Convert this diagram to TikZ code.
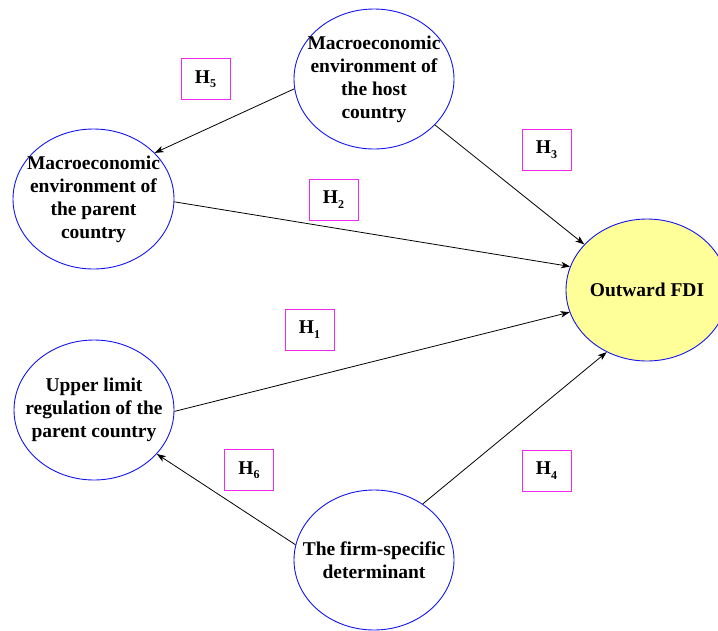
\documentclass[tikz,border=0pt]{standalone}
\usepackage{fontspec}
\setmainfont{Liberation Serif}
\usetikzlibrary{shapes.geometric,arrows.meta}
\definecolor{ellblue}{RGB}{20,20,240}
\definecolor{hypmag}{RGB}{240,40,240}
\definecolor{fdiyellow}{RGB}{255,255,153}
\tikzset{
  ell/.style={ellipse,draw=ellblue,line width=0.9pt,minimum width=160pt,
              minimum height=140pt,inner sep=0pt},
  elltext/.style={align=center,font=\fontsize{19.5}{23}\selectfont\bfseries,inner sep=0pt},
  hyp/.style={draw=hypmag,line width=0.9pt,minimum width=49pt,minimum height=41pt,
              inner sep=0pt,font=\fontsize{19.5}{23}\selectfont\bfseries},
  link/.style={line width=0.8pt,-{Stealth[length=9pt,width=6.5pt,inset=2.5pt]}}
}
\newcommand{\hyplabel}[1]{H\raisebox{-4.5pt}{\fontsize{12}{12}\selectfont\bfseries #1}}
\begin{document}
\begin{tikzpicture}[x=1pt,y=-1pt]
  \useasboundingbox (0,0) rectangle (718,630);
  % constructs
  \node[ell] (host) at (374,79) {};
  \node[elltext] (hostt) at (host) {Macroeconomic\\environment of\\the host\\country};
  \node[ell,minimum width=161pt] (parent) at (93.5,199) {};
  \node[elltext] (parentt) at (parent) {Macroeconomic\\environment of\\the parent\\country};
  \node[ell] (limit) at (94,410) {};
  \node[elltext] (limitt) at (limit) {Upper limit\\regulation of the\\parent country};
  \node[ell] (firm) at (374,560) {};
  \node[elltext] (firmt) at (firm) {The firm-specific\\determinant};
  \node[ell,fill=fdiyellow,minimum width=162pt,minimum height=142pt] (fdi) at (647,290) {};
  \node[elltext] (fdit) at (fdi) {Outward FDI};
  % hypothesis labels
  \node[hyp] (h5) at (205.5,79) {\hyplabel{5}};
  \node[hyp] (h3) at (546.5,149.5) {\hyplabel{3}};
  \node[hyp] (h2) at (333.5,199.5) {\hyplabel{2}};
  \node[hyp] (h1) at (309.5,329.5) {\hyplabel{1}};
  \node[hyp] (h6) at (249,470) {\hyplabel{6}};
  \node[hyp] (h4) at (546.5,470.5) {\hyplabel{4}};
  % paths
  \draw[link] (host.187) -- (parent.37);
  \draw[link] (host.323) -- (fdi.144);
  \draw[link] (parent.-2) -- (fdi.163);
  \draw[link] (limit.-1) -- (fdi.196);
  \draw[link] (firm.169) -- (limit.-35);
  \draw[link] (firm.49) -- (fdi.237);
\end{tikzpicture}
\end{document}
